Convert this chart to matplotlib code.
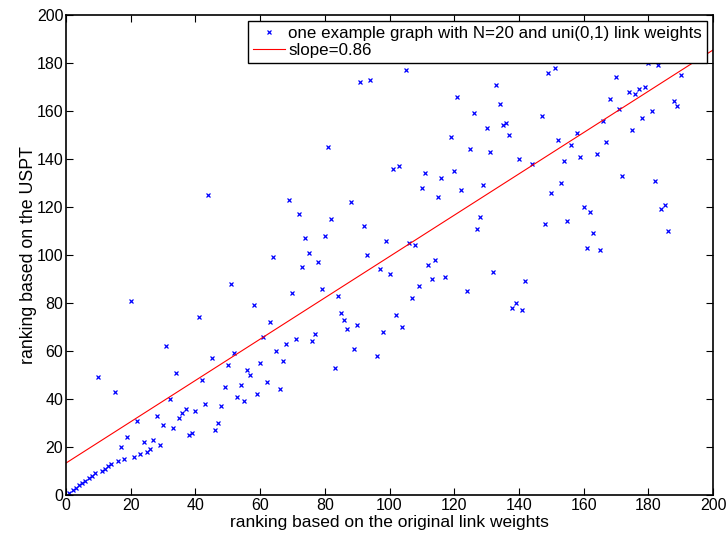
import matplotlib
matplotlib.use('Agg')
import matplotlib.pyplot as plt
import numpy as np

# ranking of each link: x = original link weights, y = USPT (N=20 -> 190 links)
rank_orig = list(range(1, 191))
rank_uspt = [
    1, 2, 3, 4, 5, 6, 7, 8, 9, 49,            # 1-10
    10, 11, 12, 13, 43, 14, 20, 15, 24, 81,   # 11-20
    16, 31, 17, 22, 18, 19, 23, 33, 21, 29,   # 21-30
    62, 40, 28, 51, 32, 34, 36, 25, 26, 35,   # 31-40
    74, 48, 38, 125, 57, 27, 30, 37, 45, 54,  # 41-50
    88, 59, 41, 46, 39, 52, 50, 79, 42, 55,   # 51-60
    66, 47, 72, 99, 60, 44, 56, 63, 123, 84,  # 61-70
    65, 117, 95, 107, 101, 64, 67, 97, 86, 108,   # 71-80
    145, 115, 53, 83, 76, 73, 69, 122, 61, 71,    # 81-90
    172, 112, 100, 173, 183, 58, 94, 68, 106, 92,  # 91-100
    136, 75, 137, 70, 177, 105, 82, 104, 87, 128,  # 101-110
    134, 96, 90, 98, 124, 132, 91, 186, 149, 135,  # 111-120
    166, 127, 184, 85, 144, 159, 111, 116, 129, 153,  # 121-130
    143, 93, 171, 163, 154, 155, 150, 78, 80, 140,    # 131-140
    77, 89, 181, 138, 188, 182, 158, 113, 176, 126,   # 141-150
    178, 148, 130, 139, 114, 146, 187, 151, 141, 120,  # 151-160
    103, 118, 109, 142, 102, 156, 147, 165, 185, 174,  # 161-170
    161, 133, 189, 168, 152, 167, 169, 157, 170, 180,  # 171-180
    160, 131, 179, 119, 121, 110, 190, 164, 162, 175,  # 181-190
]

x = np.array(rank_orig)
y = np.array(rank_uspt)
slope, intercept = np.polyfit(x, y, 1)
x_line = np.array([0, 200])

plt.rcParams['font.family'] = ['Liberation Sans', 'DejaVu Sans']

fig = plt.figure(figsize=(7.28, 5.33), dpi=100)
ax = fig.add_axes([0.0907, 0.0713, 0.8888, 0.9006])

ax.plot(x, y, 'x', color='b', markersize=3.5, markeredgewidth=0.9,
        label='one example graph with N=20 and uni(0,1) link weights')
ax.plot(x_line, slope * x_line + intercept, '-', color='r', linewidth=0.8,
        label='slope=%.2f' % slope)

ax.set_xlim(0, 200)
ax.set_ylim(0, 200)
ax.set_xticks(range(0, 201, 20))
ax.set_yticks(range(0, 201, 20))
ax.tick_params(direction='in', top=True, right=True, length=5, width=0.8,
               labelsize=11.5, pad=2)
for s in ax.spines.values():
    s.set_linewidth(1.2)

ax.set_xlabel('ranking based on the original link weights', fontsize=12.5, labelpad=1.5)
ax.set_ylabel('ranking based on the USPT', fontsize=12.8, labelpad=0)

leg = ax.legend(loc='upper right', numpoints=1, fontsize=12.2, frameon=True,
                fancybox=False, framealpha=1, edgecolor='k', borderpad=0.3,
                handlelength=1.9, handletextpad=0.2, labelspacing=0.12,
                borderaxespad=0.35)
leg.get_frame().set_linewidth(1.0)
leg.set_zorder(10)

fig.savefig('out.png', dpi=100)
